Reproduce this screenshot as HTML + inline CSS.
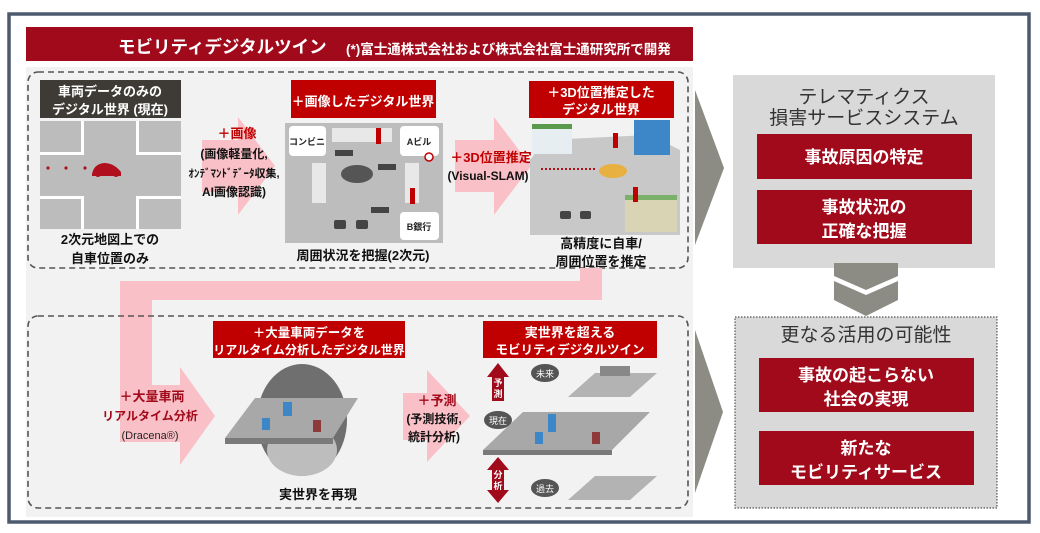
<!DOCTYPE html>
<html><head><meta charset="utf-8"><style>
html,body{margin:0;padding:0;background:#fff;}
svg{display:block;font-family:"Liberation Sans","Noto Sans CJK JP",sans-serif;}
.b{font-weight:bold;}
</style></head><body>
<svg width="1040" height="533" viewBox="0 0 1040 533" xmlns="http://www.w3.org/2000/svg">
<rect width="1040" height="533" fill="#fff"/>
<rect x="9" y="14" width="1020" height="508" fill="#fff" stroke="#4d5a6e" stroke-width="3.5"/>
<rect x="26" y="27" width="667" height="34" fill="#a10a1b"/>
<text x="118" y="53" font-size="17.5" fill="#fff" class="b">モビリティデジタルツイン</text>
<text x="346" y="54" font-size="13.5" fill="#fff" class="b">(*)富士通株式会社および株式会社富士通研究所で開発</text>
<rect x="26" y="67" width="667" height="450" fill="#f2f2f2"/>
<rect x="28" y="72" width="660" height="196" rx="10" fill="none" stroke="#555" stroke-width="1.6" stroke-dasharray="6,4"/>
<path d="M120 281 H580 V268 H602 V300 H152 V385 H180 V367 L215 416 L180 465 V442 H120 Z" fill="#f9c1c7"/>
<rect x="28" y="316" width="660" height="192" rx="10" fill="none" stroke="#555" stroke-width="1.6" stroke-dasharray="6,4"/>

<rect x="40" y="80" width="141" height="38" fill="#3e3b36"/>
<text x="110" y="96" font-size="13" fill="#fff" text-anchor="middle" class="b">車両データのみの</text>
<text x="110" y="114" font-size="13" fill="#fff" text-anchor="middle" class="b">デジタル世界 (現在)</text>
<rect x="40" y="121" width="141" height="108" fill="#bcbcbc"/>
<g fill="#fff"><rect x="81" y="121" width="3" height="108"/><rect x="136" y="121" width="3" height="108"/><rect x="40" y="152" width="141" height="3"/><rect x="40" y="196" width="141" height="3"/></g>
<g fill="#bcbcbc"><rect x="84" y="121" width="52" height="108"/><rect x="40" y="155" width="141" height="41"/></g>
<g fill="#b0101e"><circle cx="48" cy="168" r="1.6"/><circle cx="66" cy="168" r="1.6"/><circle cx="85" cy="168" r="1.6"/><path d="M92 174 q2 -10 12 -11 q10 0 17 9 v4 h-29z"/><circle cx="98" cy="174" r="3"/><circle cx="116" cy="174" r="3"/></g>
<text x="110" y="244" font-size="13" fill="#111" text-anchor="middle" class="b">2次元地図上での</text>
<text x="110" y="263" font-size="13" fill="#111" text-anchor="middle" class="b">自車位置のみ</text>

<path d="M202 140 H238 V117 L275 166 L238 215 V192 H202 Z" fill="#f9c1c7"/>
<text x="237" y="138" font-size="13" fill="#c00000" text-anchor="middle" class="b">＋画像</text>
<text x="234" y="158" font-size="12" fill="#111" text-anchor="middle" class="b">(画像軽量化,</text>
<text x="234" y="177" font-size="11" fill="#111" text-anchor="middle" class="b">ｵﾝﾃﾞﾏﾝﾄﾞﾃﾞｰﾀ収集,</text>
<text x="234" y="196" font-size="12" fill="#111" text-anchor="middle" class="b">AI画像認識)</text>

<rect x="291" y="80" width="145" height="38" fill="#c00000"/>
<text x="363" y="106" font-size="13" fill="#fff" text-anchor="middle" class="b">＋画像したデジタル世界</text>
<rect x="285" y="123" width="158" height="120" fill="#bdbdbd"/>
<g fill="#fff"><rect x="289" y="126" width="37" height="30" rx="4"/><rect x="400" y="126" width="39" height="30" rx="4"/><rect x="400" y="212" width="39" height="28" rx="4"/><rect x="332" y="128" width="60" height="14" fill="#e8e8e8"/><rect x="312" y="163" width="14" height="40" fill="#e8e8e8"/><rect x="405" y="163" width="14" height="40" fill="#e8e8e8"/></g>
<text x="307" y="145" font-size="9" fill="#222" text-anchor="middle" class="b">コンビニ</text>
<text x="419" y="145" font-size="9" fill="#222" text-anchor="middle" class="b">Aビル</text>
<text x="419" y="230" font-size="9" fill="#222" text-anchor="middle" class="b">B銀行</text>
<g fill="#c00000"><rect x="376" y="128" width="5" height="16"/><rect x="410" y="188" width="5" height="16"/></g>
<ellipse cx="357" cy="174" rx="16" ry="9" fill="#555"/>
<g fill="#444"><rect x="334" y="220" width="12" height="9" rx="2"/><rect x="356" y="220" width="12" height="9" rx="2"/><rect x="335" y="150" width="18" height="6"/><rect x="378" y="164" width="18" height="6"/><rect x="371" y="207" width="18" height="6"/></g>
<circle cx="429" cy="157" r="4" fill="#fff" stroke="#c00000" stroke-width="1.5"/>
<text x="363" y="260" font-size="13" fill="#111" text-anchor="middle" class="b">周囲状況を把握(2次元)</text>

<path d="M455 140 H494 V117 L531 166 L494 215 V192 H455 Z" fill="#f9c1c7"/>
<text x="491" y="162" font-size="13" fill="#c00000" text-anchor="middle" class="b">＋3D位置推定</text>
<text x="488" y="180" font-size="12" fill="#111" text-anchor="middle" class="b">(Visual-SLAM)</text>

<rect x="529" y="81" width="145" height="37" fill="#c00000"/>
<text x="601" y="97" font-size="13" fill="#fff" text-anchor="middle" class="b">＋3D位置推定した</text>
<text x="601" y="114" font-size="13" fill="#fff" text-anchor="middle" class="b">デジタル世界</text>
<polygon points="545,140 650,135 680,150 680,235 530,235 530,160" fill="#c8c8c8"/>
<rect x="532" y="128" width="40" height="26" fill="#e6eef2"/><rect x="532" y="124" width="40" height="5" fill="#5a9a4a"/>
<rect x="634" y="120" width="36" height="35" fill="#3d87c9"/>
<rect x="625" y="198" width="52" height="34" fill="#d8d4b4"/><rect x="625" y="195" width="52" height="5" fill="#7ab06a"/>
<ellipse cx="613" cy="171" rx="14" ry="7" fill="#e8b040"/>
<line x1="541" y1="169" x2="597" y2="169" stroke="#b0101e" stroke-width="2" stroke-dasharray="2,2"/>
<g fill="#444"><rect x="560" y="211" width="11" height="8" rx="2"/><rect x="580" y="211" width="11" height="8" rx="2"/></g>
<g fill="#c00000"><rect x="613" y="133" width="5" height="15"/><rect x="633" y="187" width="5" height="15"/></g>
<text x="601" y="248" font-size="13" fill="#111" text-anchor="middle" class="b">高精度に自車/</text>
<text x="601" y="266" font-size="13" fill="#111" text-anchor="middle" class="b">周囲位置を推定</text>

<polygon points="695,90 724,168 695,245" fill="#8c8c84"/>
<polygon points="695,330 723,412 695,493" fill="#8c8c84"/>

<rect x="733" y="75" width="262" height="193" fill="#d9d9d9"/>
<text x="864" y="103" font-size="19" fill="#333" text-anchor="middle">テレマティクス</text>
<text x="864" y="124" font-size="19" fill="#333" text-anchor="middle">損害サービスシステム</text>
<rect x="757" y="134" width="215" height="45" fill="#a10a1b"/>
<text x="864" y="163" font-size="17" fill="#fff" text-anchor="middle" class="b">事故原因の特定</text>
<rect x="757" y="190" width="215" height="54" fill="#a10a1b"/>
<text x="864" y="213" font-size="17" fill="#fff" text-anchor="middle" class="b">事故状況の</text>
<text x="864" y="237" font-size="17" fill="#fff" text-anchor="middle" class="b">正確な把握</text>
<g fill="#8c8c84"><polygon points="834,263 898,263 898,276 866,290 834,276"/><polygon points="834,281 866,295 898,281 898,300 866,316 834,300"/></g>

<rect x="735" y="317" width="262" height="191" fill="#d9d9d9" stroke="#555" stroke-width="1.2" stroke-dasharray="1.5,1.5"/>
<text x="866" y="341" font-size="19" fill="#333" text-anchor="middle">更なる活用の可能性</text>
<rect x="759" y="358" width="215" height="54" fill="#a10a1b"/>
<text x="866" y="381" font-size="17" fill="#fff" text-anchor="middle" class="b">事故の起こらない</text>
<text x="866" y="405" font-size="17" fill="#fff" text-anchor="middle" class="b">社会の実現</text>
<rect x="759" y="431" width="215" height="54" fill="#a10a1b"/>
<text x="866" y="454" font-size="17" fill="#fff" text-anchor="middle" class="b">新たな</text>
<text x="866" y="478" font-size="17" fill="#fff" text-anchor="middle" class="b">モビリティサービス</text>

<text x="152" y="401" font-size="13" fill="#a10a1b" text-anchor="middle" class="b">＋大量車両</text>
<text x="150" y="420" font-size="12" fill="#a10a1b" text-anchor="middle" class="b">リアルタイム分析</text>
<text x="150" y="439" font-size="11" fill="#222" text-anchor="middle">(Dracena®)</text>

<rect x="213" y="321" width="192" height="37" fill="#c00000"/>
<text x="309" y="337" font-size="12.5" fill="#fff" text-anchor="middle" class="b">＋大量車両データを</text>
<text x="309" y="354" font-size="12" fill="#fff" text-anchor="middle" class="b">リアルタイム分析したデジタル世界</text>
<ellipse cx="302" cy="420" rx="45" ry="56" fill="#6f6f6f"/>
<ellipse cx="302" cy="450" rx="35" ry="26" fill="#bdbdbd"/>
<polygon points="225,438 255,398 358,398 333,438" fill="#a8a8a8"/>
<polygon points="225,438 333,438 333,444 225,444" fill="#7a7a7a"/>
<g fill="#3d87c9"><rect x="283" y="402" width="9" height="14"/><rect x="262" y="418" width="8" height="12"/></g>
<rect x="313" y="420" width="8" height="12" fill="#8e3a3a"/>
<text x="318" y="499" font-size="13" fill="#111" text-anchor="middle" class="b">実世界を再現</text>

<path d="M403 393 H427 V370 L470 416 L427 462 V440 H403 Z" fill="#f9c1c7"/>
<text x="437" y="405" font-size="13" fill="#a10a1b" text-anchor="middle" class="b">＋予測</text>
<text x="434" y="423" font-size="12" fill="#111" text-anchor="middle" class="b">(予測技術,</text>
<text x="434" y="441" font-size="12" fill="#111" text-anchor="middle" class="b">統計分析)</text>

<rect x="483" y="321" width="174" height="37" fill="#c00000"/>
<text x="570" y="337" font-size="13" fill="#fff" text-anchor="middle" class="b">実世界を超える</text>
<text x="570" y="354" font-size="12.5" fill="#fff" text-anchor="middle" class="b">モビリティデジタルツイン</text>
<path d="M498 363 L509 377 H504 V401 H492 V377 H487 Z" fill="#a10a1b"/>
<text x="498" y="386" font-size="9" fill="#fff" text-anchor="middle" class="b">予</text>
<text x="498" y="397" font-size="9" fill="#fff" text-anchor="middle" class="b">測</text>
<path d="M498 457 L509 470 H504 V490 H509 L498 503 L487 490 H492 V470 H487 Z" fill="#a10a1b"/>
<text x="498" y="478" font-size="9" fill="#fff" text-anchor="middle" class="b">分</text>
<text x="498" y="489" font-size="9" fill="#fff" text-anchor="middle" class="b">析</text>
<g fill="#555"><ellipse cx="545" cy="373" rx="14" ry="9"/><ellipse cx="498" cy="420" rx="14" ry="9"/><ellipse cx="545" cy="488" rx="14" ry="9"/></g>
<text x="545" y="377" font-size="9" fill="#fff" text-anchor="middle">未来</text>
<text x="498" y="424" font-size="9" fill="#fff" text-anchor="middle">現在</text>
<text x="545" y="492" font-size="9" fill="#fff" text-anchor="middle">過去</text>
<polygon points="568,397 595,373 657,373 630,397" fill="#b3b3b3"/>
<rect x="600" y="366" width="30" height="10" fill="#888"/>
<polygon points="483,450 523,412 650,412 612,450" fill="#a8a8a8"/>
<polygon points="483,450 612,450 612,455 483,455" fill="#7a7a7a"/>
<g fill="#3d87c9"><rect x="548" y="414" width="8" height="18"/><rect x="535" y="432" width="8" height="12"/></g>
<rect x="592" y="432" width="8" height="12" fill="#8e3a3a"/>
<polygon points="568,500 595,476 657,476 630,500" fill="#b3b3b3"/>
</svg>
</body></html>
